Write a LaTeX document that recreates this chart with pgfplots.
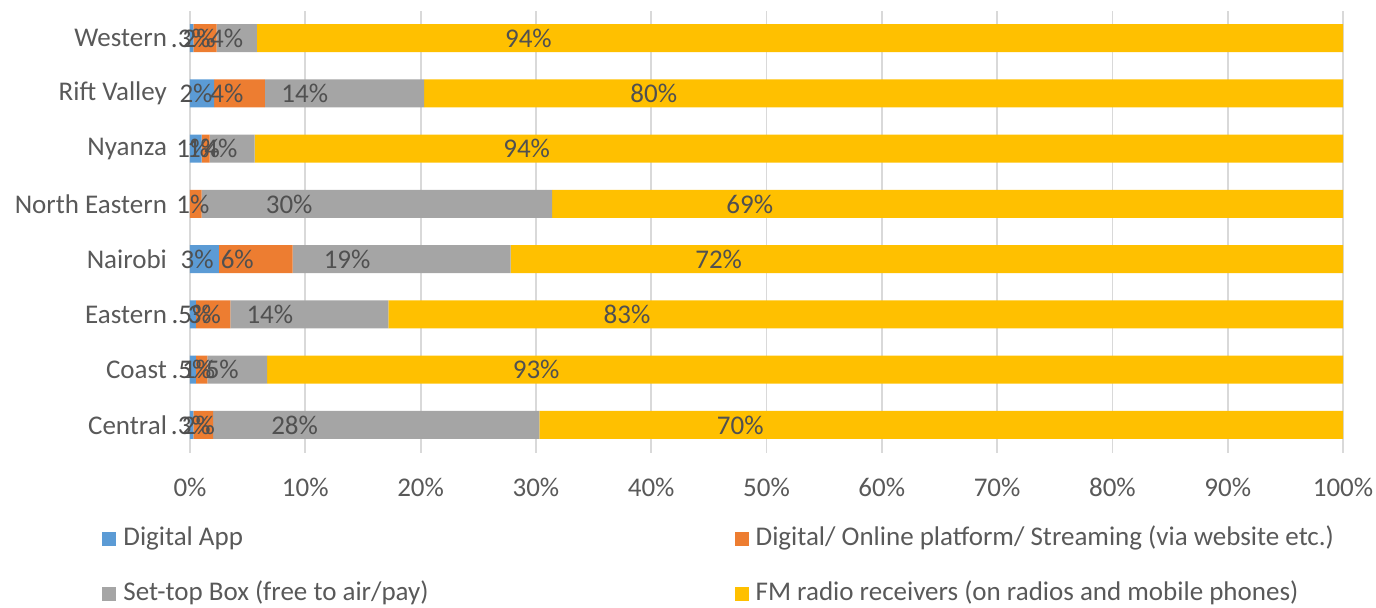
\documentclass[border=0pt]{standalone}
\usepackage{fontspec}
\setmainfont{Carlito}
\usepackage{pgfplots}
\pgfplotsset{compat=1.18}
\definecolor{cblue}{HTML}{5B9BD5}
\definecolor{corange}{HTML}{ED7D31}
\definecolor{cgray}{HTML}{A5A5A5}
\definecolor{cyellow}{HTML}{FFC000}
\definecolor{gridc}{HTML}{D9D9D9}
\definecolor{textc}{HTML}{595959}
\definecolor{labc}{HTML}{505050}
\begin{document}
\begin{tikzpicture}
\useasboundingbox (-95pt,-77.2pt) rectangle (593pt,226.3pt);
\begin{axis}[
  at={(0,0)}, anchor=south west,
  scale only axis, width=576.5pt, height=221pt,
  xbar stacked, bar width=14pt,
  xmin=0, xmax=100, ymin=-0.5, ymax=7.5,
  ytick={0,...,7},
  yticklabels={Central,Coast,Eastern,Nairobi,North Eastern,Nyanza,Rift Valley,Western},
  xtick={0,10,...,100},
  /pgf/number format/assume math mode=true,
  xticklabel={\pgfmathprintnumber{\tick}\%},
  font=\fontsize{13.5pt}{16pt}\selectfont,
  ticklabel style={font=\fontsize{13.5pt}{16pt}\selectfont, text=textc},
  xticklabel style={yshift=-9pt},
  yticklabel style={xshift=-8pt},
  xmajorgrids, grid style={draw=gridc, line width=0.9pt},
  axis line style={draw=none},
  major tick length=0pt,
  point meta=explicit symbolic,
  visualization depends on={rawx \as \rawx},
  nodes near coords={\pgfplotspointmeta},
  nodes near coords align={center},
  every node near coord/.append style={anchor=center, text=labc,
     font=\fontsize{13.5pt}{16pt}\selectfont, xshift={-0.25*\rawx*5.765pt}},
  legend columns=2,
  legend cell align=left,
  legend image code/.code={\fill[#1] (0pt,-3.5pt) rectangle (7pt,3.5pt); \path (8.5pt,0pt);},
  legend style={draw=none, fill=none, at={(axis description cs:0,0)},
     anchor=north west, xshift=-44pt, yshift=-35.2pt, inner sep=0pt,
     row sep=11.5pt, text=textc,
     font=\fontsize{13.5pt}{16pt}\selectfont,
     nodes={inner sep=2pt, text height=9pt, text depth=3pt},
     /tikz/column 2/.style={column sep=151pt}},
]
\addplot[fill=cblue, draw=none] coordinates {
 (0.3,0) [.3\%] (0.5,1) [.5\%] (0.5,2) [.5\%] (2.5,3) [3\%]
 (0,4) [{}] (1.0,5) [1\%] (2.1,6) [2\%] (0.3,7) [.3\%]};
\addplot[fill=corange, draw=none] coordinates {
 (1.7,0) [2\%] (1.0,1) [1\%] (3.0,2) [3\%] (6.4,3) [6\%]
 (1.0,4) [1\%] (0.7,5) [1\%] (4.4,6) [4\%] (2.0,7) [2\%]};
\addplot[fill=cgray, draw=none] coordinates {
 (28.3,0) [28\%] (5.2,1) [5\%] (13.7,2) [14\%] (18.9,3) [19\%]
 (30.4,4) [30\%] (3.9,5) [4\%] (13.8,6) [14\%] (3.5,7) [4\%]};
\addplot[fill=cyellow, draw=none] coordinates {
 (69.7,0) [70\%] (93.3,1) [93\%] (82.8,2) [83\%] (72.2,3) [72\%]
 (68.6,4) [69\%] (94.4,5) [94\%] (79.7,6) [80\%] (94.2,7) [94\%]};
\legend{Digital App, Digital/ Online platform/ Streaming (via website etc.), Set-top Box (free to air/pay), FM radio receivers (on radios and mobile phones)}
\end{axis}
\end{tikzpicture}
\end{document}
